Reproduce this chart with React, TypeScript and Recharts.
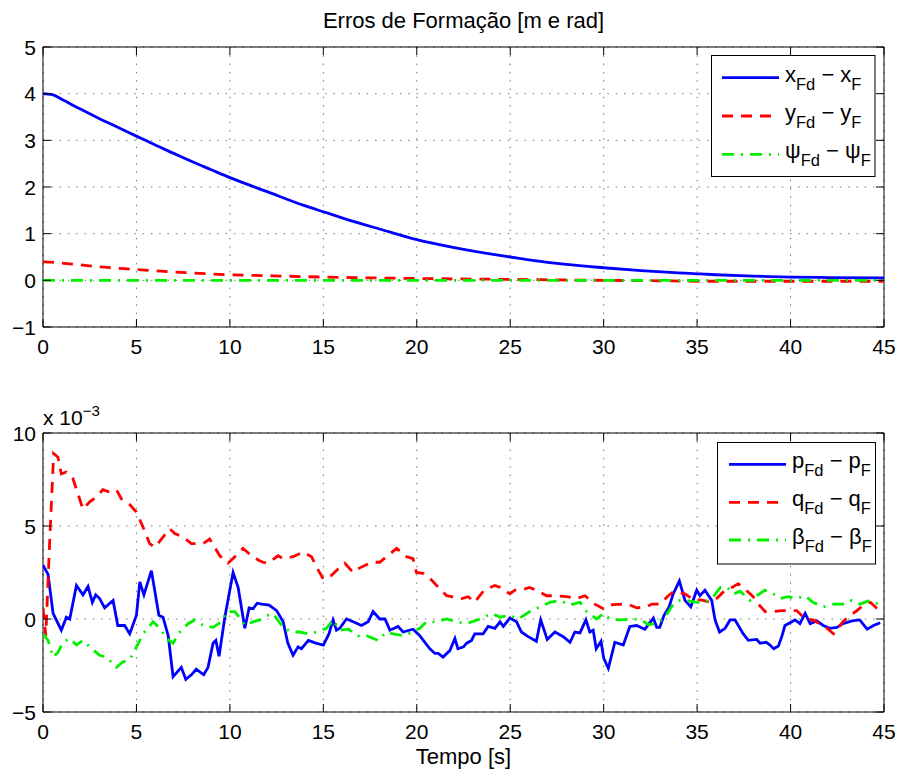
import React from 'react';
import { LineChart, Line, XAxis, YAxis, CartesianGrid, ReferenceArea } from 'recharts';

// tempo [s] e ticks
const timeTicks = [0, 5, 10, 15, 20, 25, 30, 35, 40, 45];
const topTicks = [-1, 0, 1, 2, 3, 4, 5];
const bottomTicks = [-5, 0, 5, 10];

// erros de formação (posição / orientação) - pares [t, valor]
const xErr = [
  [0, 4.0], [0.5, 3.98], [1, 3.88], [2, 3.67], [3, 3.47], [4, 3.28], [5, 3.09], [6, 2.9],
  [7, 2.72], [8, 2.54], [9, 2.37], [10, 2.2], [12, 1.9], [14, 1.6], [15, 1.47], [16, 1.34],
  [18, 1.1], [20, 0.87], [22, 0.7], [24, 0.56], [25, 0.5], [26, 0.44], [28, 0.34], [30, 0.27],
  [32, 0.21], [34, 0.16], [35, 0.14], [36, 0.12], [38, 0.09], [40, 0.07], [42, 0.06], [45, 0.05],
];
const yErr = [
  [0, 0.4], [1, 0.37], [2, 0.33], [3, 0.29], [4, 0.26], [5, 0.23], [7, 0.18], [10, 0.12],
  [12, 0.1], [15, 0.07], [18, 0.05], [20, 0.04], [25, 0.02], [30, 0.0], [33, -0.01],
  [35, -0.02], [40, -0.02], [45, -0.02],
];
const psiErr = [
  [0, 0], [5, 0], [10, 0], [15, 0], [20, 0], [25, 0], [30, 0], [35, 0], [40, 0], [45, 0],
];

// erros de velocidade (x 10^-3)
const pErr = [
  [0, 2.9], [0.27, 2.4], [0.54, 0.3], [0.98, -0.6], [1.25, 0.1], [1.43, 0], [1.79, 1.8], [2.14, 1.3],
  [2.41, 1.75], [2.64, 0.9], [2.82, 1.3], [3.03, 1.1], [3.3, 0.6], [3.75, 1.0], [4.0, -0.35], [4.37, -0.35],
  [4.64, -0.8], [5.0, 0.2], [5.18, 2.0], [5.4, 1.3], [5.8, 2.6], [6.2, 0.2], [6.42, 0.1], [6.7, -0.9],
  [6.96, -3.1], [7.4, -2.6], [7.64, -3.25], [7.94, -3.0], [8.2, -2.7], [8.6, -3.0], [8.83, -2.6], [9.1, -1.3],
  [9.25, -1.15], [9.42, -2.0], [9.73, 0.1], [10.17, 2.5], [10.44, 1.7], [10.8, -0.5], [11.03, 0.6], [11.24, 0.55],
  [11.46, 0.85], [11.7, 0.8], [12.1, 0.75], [12.5, 0.45], [12.85, -0.15], [13.1, -1.3], [13.38, -1.95], [13.65, -1.5],
  [13.83, -1.6], [14.2, -1.15], [14.6, -1.3], [15.0, -1.4], [15.3, -0.8], [15.52, -0.05], [15.7, -0.6], [15.88, -0.5],
  [16.24, 0], [16.6, -0.15], [17.04, -0.35], [17.4, -0.15], [17.66, 0.4], [18.02, 0], [18.3, 0], [18.56, -0.6],
  [19.0, -0.4], [19.27, -0.7], [19.8, -0.55], [20.16, -0.9], [20.7, -1.6], [20.97, -1.85], [21.15, -1.85], [21.4, -2.05],
  [21.77, -1.7], [22.04, -1.05], [22.2, -1.6], [22.5, -1.5], [22.67, -1.3], [22.93, -1.15], [23.1, -0.8], [23.55, -0.8],
  [23.82, -0.4], [24.18, -0.5], [24.45, -0.15], [24.63, -0.4], [24.98, 0.05], [25.34, -0.15], [25.6, -0.7], [25.96, -0.95],
  [26.4, -1.2], [26.63, -0.05], [26.98, -1.1], [27.39, -0.7], [27.84, -0.95], [28.2, -1.25], [28.46, -0.7], [28.73, -0.75],
  [29.05, -0.05], [29.26, -0.7], [29.44, -0.6], [29.6, -1.6], [29.86, -1.2], [30.0, -2.1], [30.25, -2.65], [30.6, -1.25],
  [31.05, -1.4], [31.4, -0.4], [31.77, -0.35], [32.2, -0.55], [32.66, 0.05], [32.84, -0.45], [33.0, -0.45], [33.23, 0.2],
  [33.5, 0.65], [33.72, 1.35], [34.05, 2.05], [34.35, 1.0], [34.66, 0.65], [34.98, 1.55], [35.15, 1.25], [35.42, 1.55],
  [35.78, 1.0], [35.96, -0.05], [36.2, -0.7], [36.5, -0.5], [36.76, -0.05], [37.03, -0.05], [37.47, -0.8], [37.74, -1.15],
  [38.19, -1.1], [38.37, -1.3], [38.7, -1.25], [38.9, -1.4], [39.1, -1.6], [39.35, -1.45], [39.53, -0.95], [39.7, -0.35],
  [39.97, -0.2], [40.24, -0.05], [40.5, -0.25], [40.78, 0.3], [41.05, -0.25], [41.4, -0.1], [41.75, -0.35], [42.1, -0.5],
  [42.48, -0.45], [42.8, -0.25], [43.3, -0.1], [43.7, -0.05], [44.1, -0.55], [44.44, -0.35], [44.8, -0.2],
];
const qErr = [
  [0, 0.6], [0.15, -0.9], [0.35, 4.0], [0.57, 8.9], [0.8, 8.7], [0.98, 7.8], [1.25, 7.9], [1.6, 7.55],
  [2.14, 5.9], [2.5, 6.3], [2.86, 6.55], [3.2, 6.95], [3.48, 6.85], [3.93, 6.95], [4.2, 6.45], [4.64, 6.15],
  [5.0, 5.75], [5.35, 4.95], [5.71, 4.05], [5.98, 3.85], [6.42, 4.4], [6.78, 4.85], [7.05, 4.6], [7.5, 4.4],
  [7.94, 4.05], [8.57, 4.05], [8.92, 4.3], [9.46, 3.4], [9.9, 3.0], [10.17, 3.25], [10.7, 3.8], [11.16, 3.4],
  [11.56, 3.15], [11.78, 3.05], [12.04, 3.0], [12.58, 3.4], [12.85, 3.25], [13.38, 3.35], [13.92, 3.6], [14.37, 3.35],
  [14.63, 2.8], [15.0, 2.15], [15.44, 2.35], [15.8, 2.7], [16.15, 3.0], [16.6, 2.5], [16.95, 2.75], [17.58, 3.05],
  [18.02, 3.05], [18.56, 3.5], [18.92, 3.8], [19.45, 3.35], [19.8, 3.25], [19.98, 2.5], [20.34, 2.45], [20.79, 2.1],
  [21.3, 1.55], [21.6, 1.25], [21.86, 1.2], [22.4, 1.1], [22.75, 1.2], [23.1, 0.9], [23.6, 1.55], [24.18, 1.8],
  [24.45, 1.7], [24.98, 1.35], [25.25, 1.55], [25.6, 1.55], [26.02, 1.7], [26.4, 1.55], [26.95, 1.25], [27.48, 1.25],
  [28.02, 1.2], [28.55, 1.1], [29.0, 1.25], [29.53, 0.8], [29.98, 0.55], [30.34, 0.75], [30.88, 0.8], [31.4, 0.75],
  [31.77, 0.6], [32.3, 0.65], [32.57, 0.8], [33.0, 0.8], [33.46, 1.25], [33.72, 1.45], [33.9, 1.45], [34.35, 1.35],
  [34.71, 1.1], [35.33, 1.0], [35.7, 0.9], [36.04, 1.1], [36.5, 1.55], [36.86, 1.7], [37.2, 1.9], [37.4, 1.7],
  [37.74, 1.45], [38.0, 1.2], [38.28, 0.8], [38.64, 0.4], [39.08, 0.4], [39.53, 0.45], [40.33, 0.45], [40.78, 0],
  [41.2, -0.05], [41.95, -0.5], [42.3, -0.8], [42.48, -0.6], [42.8, -0.15], [43.2, 0.2], [43.55, 0.45], [43.9, 0.75],
  [44.27, 0.9], [44.8, 0.4],
];
const betaErr = [
  [0, -0.8], [0.27, -1.15], [0.54, -2.05], [0.8, -1.8], [1.07, -1.25], [1.43, -1.05], [1.79, -1.4], [2.14, -1.15],
  [2.5, -1.5], [3.03, -1.95], [3.4, -2.05], [3.93, -2.6], [4.28, -2.3], [4.64, -2.2], [5.0, -1.5], [5.35, -0.8],
  [5.89, -0.15], [6.25, -0.5], [6.6, -1.05], [6.96, -1.3], [7.32, -0.7], [7.76, -0.25], [8.12, -0.05], [8.57, -0.35],
  [9.1, -0.45], [9.55, -0.15], [9.82, 0.4], [10.26, 0.4], [10.62, -0.05], [10.8, -0.35], [11.24, -0.15], [11.6, -0.05],
  [12.04, 0.2], [12.3, 0.3], [12.85, -0.45], [13.3, -0.7], [13.74, -0.7], [14.19, -0.8], [14.64, -0.7], [15.17, -0.5],
  [15.52, -0.05], [15.88, -0.6], [16.33, -0.55], [16.95, -0.95], [17.31, -0.9], [17.93, -1.15], [18.38, -0.7], [18.74, -0.8],
  [19.27, -0.9], [19.8, -0.7], [20.16, -0.5], [20.52, -0.15], [21.05, -0.15], [21.6, 0], [22.13, -0.15], [22.66, -0.25],
  [23.38, 0], [24.0, 0.3], [24.45, 0.1], [24.98, 0.2], [25.43, 0], [26.05, 0.4], [26.59, 0.65], [27.13, 0.9],
  [27.66, 1.0], [28.2, 0.75], [28.73, 0.9], [29.09, 0.4], [29.63, 0], [29.98, 0.3], [30.34, 0], [30.88, -0.05],
  [31.58, 0], [32.03, -0.05], [32.38, -0.3], [32.84, -0.25], [33.28, 0.1], [33.72, 0.8], [34.08, 1.0], [34.44, 1.0],
  [34.98, 0.9], [35.42, 0.9], [35.78, 1.1], [36.25, 1.7], [36.6, 1.7], [36.96, 1.35], [37.3, 1.5], [37.56, 1.25],
  [37.83, 1.0], [38.19, 1.25], [38.64, 1.55], [39.08, 1.35], [39.44, 1.1], [39.88, 1.2], [40.33, 1.1], [40.78, 1.25],
  [41.2, 0.9], [41.75, 0.65], [42.3, 0.8], [43.0, 0.8], [43.27, 1.0], [43.7, 0.8], [44.27, 1.0], [44.8, 0.75],
];

const FONT = '"Liberation Sans", Arial, Helvetica, sans-serif';
const BLUE = '#0000ff';
const RED = '#ff0000';
const GREEN = '#00f000';
const RED_DASH = '11 8';
const GREEN_DASH = '12 7 2 7';

const W = 902;
const Y_AXIS_W = 43;
const RIGHT = 18;
const PLOT_W = W - Y_AXIS_W - RIGHT;

const toPts = (arr: number[][]) => arr.map(([t, v]) => ({ t, v }));
const fmt = (v: number) => (v < 0 ? '\u2212' + Math.abs(v) : String(v));

const topSeries = [
  { key: 'x', data: toPts(xErr), color: BLUE, dash: undefined, sym: 'x' },
  { key: 'y', data: toPts(yErr), color: RED, dash: RED_DASH, sym: 'y' },
  { key: 'psi', data: toPts(psiErr), color: GREEN, dash: GREEN_DASH, sym: '\u03c8' },
];
const bottomSeries = [
  { key: 'p', data: toPts(pErr), color: BLUE, dash: undefined, sym: 'p' },
  { key: 'q', data: toPts(qErr), color: RED, dash: RED_DASH, sym: 'q' },
  { key: 'beta', data: toPts(betaErr), color: GREEN, dash: GREEN_DASH, sym: '\u03b2' },
];

function xTick(plotH: number) {
  return (props: any) => {
    const { x, y, payload } = props;
    return (
      <g>
        <line x1={x} y1={y} x2={x} y2={y - 8} stroke="#000" />
        <line x1={x} y1={y - plotH} x2={x} y2={y - plotH + 8} stroke="#000" />
        <text x={x} y={y + 19} textAnchor="middle" dominantBaseline="central" fontSize={21} fontFamily={FONT} fill="#000">
          {fmt(payload.value)}
        </text>
      </g>
    );
  };
}

function yTick() {
  return (props: any) => {
    const { x, y, payload } = props;
    return (
      <g>
        <line x1={x} y1={y} x2={x + 8} y2={y} stroke="#000" />
        <line x1={x + PLOT_W} y1={y} x2={x + PLOT_W - 8} y2={y} stroke="#000" />
        <text x={x - 7} y={y} textAnchor="end" dominantBaseline="central" fontSize={21} fontFamily={FONT} fill="#000">
          {fmt(payload.value)}
        </text>
      </g>
    );
  };
}

function Panel({ height, margin, yDomain, yTicks, series, linear }: any) {
  const plotH = height - margin.top - margin.bottom - 40;
  return (
    <LineChart width={W} height={height} margin={margin}>
      <CartesianGrid stroke="#777" strokeDasharray="1.5 6.8" />
      <XAxis
        dataKey="t"
        type="number"
        domain={[0, 45]}
        ticks={timeTicks}
        allowDataOverflow
        height={40}
        tickSize={0}
        tickMargin={0}
        axisLine={false}
        tickLine={false}
        tick={xTick(plotH)}
      />
      <YAxis
        type="number"
        domain={yDomain}
        ticks={yTicks}
        allowDataOverflow
        width={Y_AXIS_W}
        tickSize={0}
        tickMargin={0}
        axisLine={false}
        tickLine={false}
        tick={yTick()}
      />
      <ReferenceArea
        x1={0}
        x2={45}
        y1={yDomain[0]}
        y2={yDomain[1]}
        fill="none"
        stroke="#000"
        strokeWidth={1}
        ifOverflow="visible"
      />
      {series.map((s: any) => (
        <Line
          key={s.key}
          data={s.data}
          dataKey="v"
          type={linear ? 'linear' : 'monotone'}
          stroke={s.color}
          strokeWidth={2.8}
          strokeDasharray={s.dash}
          dot={false}
          activeDot={false}
          isAnimationActive={false}
        />
      ))}
    </LineChart>
  );
}

function LegendBox({ x, y, w, h, rows, series, sampleX }: any) {
  return (
    <g>
      <rect x={x} y={y} width={w} height={h} fill="#fff" stroke="#000" strokeWidth={1} />
      {series.map((s: any, i: number) => {
        const cy = rows[i];
        return (
          <g key={s.key}>
            <line x1={sampleX} y1={cy} x2={sampleX + 57} y2={cy} stroke={s.color} strokeWidth={2.8} strokeDasharray={s.dash} />
            <text x={sampleX + 63} y={cy + 4} fontSize={22} fontFamily={FONT} fill="#000">
              {s.sym}
              <tspan fontSize={16.5} dy={8}>Fd</tspan>
              <tspan dy={-8}>{' \u2212 ' + s.sym}</tspan>
              <tspan fontSize={16.5} dy={8}>F</tspan>
            </text>
          </g>
        );
      })}
    </g>
  );
}

export default function App() {
  return (
    <div style={{ position: 'absolute', left: 0, top: 0, width: W, height: 770, background: '#fff', fontFamily: FONT }}>
      <div style={{ position: 'absolute', left: 0, top: 0 }}>
        <Panel
          height={380}
          margin={{ top: 47, right: RIGHT, bottom: 13, left: 0 }}
          yDomain={[-1, 5]}
          yTicks={topTicks}
          series={topSeries}
          linear={false}
        />
      </div>
      <div style={{ position: 'absolute', left: 0, top: 380 }}>
        <Panel
          height={390}
          margin={{ top: 53, right: RIGHT, bottom: 18, left: 0 }}
          yDomain={[-5, 10]}
          yTicks={bottomTicks}
          series={bottomSeries}
          linear={true}
        />
      </div>
      <svg width={W} height={770} style={{ position: 'absolute', left: 0, top: 0, pointerEvents: 'none' }}>
        <text x={463.5} y={28} textAnchor="middle" fontSize={22} fontFamily={FONT} fill="#000">
          Erros de Formação [m e rad]
        </text>
        <text x={43} y={425} fontSize={21} fontFamily={FONT} fill="#000">
          x 10
          <tspan fontSize={15} dy={-9}>{'\u22123'}</tspan>
        </text>
        <text x={463.5} y={764} textAnchor="middle" fontSize={22} fontFamily={FONT} fill="#000">
          Tempo [s]
        </text>
        <LegendBox x={711.5} y={55.5} w={163.5} h={121} rows={[77.7, 116, 154.3]} series={topSeries} sampleX={722} />
        <LegendBox x={717.5} y={442.5} w={158} h={121.5} rows={[464.3, 502.3, 540]} series={bottomSeries} sampleX={729} />
      </svg>
    </div>
  );
}
